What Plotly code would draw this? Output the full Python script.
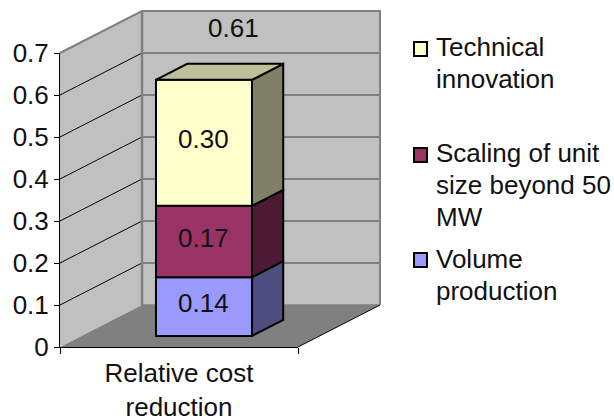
import plotly.graph_objects as go

WIDTH, HEIGHT = 614, 418
FONT = "Liberation Sans"
FONT_SIZE = 26
INK = "#111111"

# Chart values
category_label = "Relative cost<br>reduction"
series_names = ["Volume production", "Scaling of unit size beyond 50 MW", "Technical innovation"]
series_values = [0.14, 0.17, 0.30]
series_labels = ["0.14", "0.17", "0.30"]
total_label = "0.61"
y_ticks = [0, 0.1, 0.2, 0.3, 0.4, 0.5, 0.6, 0.7]
y_tick_labels = ["0", "0.1", "0.2", "0.3", "0.4", "0.5", "0.6", "0.7"]

# Face colours per series: front, side, top
front_colors = ["#9999FF", "#993366", "#FFFFCC"]
side_colors = ["#4D4D80", "#4D1A33", "#808066"]
top_color = "#BFBF99"

# Plot box in page pixels
AX_LEFT, AX_RIGHT, AX_BOTTOM, AX_TOP = 60, 298, 347, 53
PX_X = AX_RIGHT - AX_LEFT
PX_Y = (AX_BOTTOM - AX_TOP) / 0.7

# Oblique projection: one unit of depth moves a point right and upward
DEPTH_X = 82 / PX_X
DEPTH_Y = 42 / PX_Y
BAR_NEAR, BAR_FAR = 0.262, 0.643
BAR_LEFT = 0.313
BAR_WIDTH = 0.4034


def project(x, v, depth=0.0):
    return x + depth * DEPTH_X, v + depth * DEPTH_Y


def path(points):
    coords = [project(*p) for p in points]
    return "M" + "L".join(f"{x:.5f},{y:.5f}" for x, y in coords) + "Z"


def polyline(points):
    coords = [project(*p) for p in points]
    return "M" + "L".join(f"{x:.5f},{y:.5f}" for x, y in coords)


def wall(points, color):
    return dict(type="path", xref="x", yref="y", layer="below", path=path(points),
                fillcolor=color, line=dict(width=0))


def edge(points, color, width):
    return dict(type="path", xref="x", yref="y", layer="below", path=polyline(points),
                line=dict(color=color, width=width))


WALL = "#C0C0C0"
FLOOR = "#808080"
TOP = y_ticks[-1]

shapes = [
    wall([(0, 0, 0), (0, TOP, 0), (0, TOP, 1), (0, 0, 1)], WALL),
    wall([(0, 0, 1), (0, TOP, 1), (1, TOP, 1), (1, 0, 1)], WALL),
    wall([(0, 0, 0), (1, 0, 0), (1, 0, 1), (0, 0, 1)], FLOOR),
]
for t in y_ticks[1:-1]:
    shapes.append(edge([(0, t, 1), (1, t, 1)], "#808080", 2))
    shapes.append(edge([(0, t, 0), (0, t, 1)], "#000000", 1))
shapes += [
    edge([(0, TOP, 0), (0, TOP, 1), (1, TOP, 1), (1, 0, 1)], "#808080", 2),
    edge([(0, 0, 1), (0, TOP, 1)], "#808080", 2.5),
    edge([(0, 0, 1), (1, 0, 1)], "#808080", 1.5),
    edge([(1, 0, 0), (1, 0, 1)], "#000000", 1),
]

fig = go.Figure()

# Front faces of the stacked column
lift = BAR_NEAR * DEPTH_Y
x_center = BAR_LEFT + BAR_WIDTH / 2 + BAR_NEAR * DEPTH_X
bases = [sum(series_values[:i]) + lift for i in range(len(series_values))]
for name, value, base, color in zip(series_names, series_values, bases, front_colors):
    fig.add_trace(go.Bar(
        x=[x_center], y=[value], base=[base], width=[BAR_WIDTH], name=name,
        marker=dict(color=color, line=dict(color="#000000", width=2)),
        showlegend=False,
    ))


def face(points, color):
    coords = [project(*p) for p in points]
    xs = [c[0] for c in coords] + [coords[0][0]]
    ys = [c[1] for c in coords] + [coords[0][1]]
    fig.add_trace(go.Scatter(
        x=xs, y=ys, mode="lines", fill="toself", fillcolor=color,
        line=dict(color="#000000", width=2), hoverinfo="skip", showlegend=False,
    ))


# Side faces of each stack segment and the top of the column
right = BAR_LEFT + BAR_WIDTH
level = 0.0
for value, color in zip(series_values, side_colors):
    face([(right, level, BAR_NEAR), (right, level + value, BAR_NEAR),
          (right, level + value, BAR_FAR), (right, level, BAR_FAR)], color)
    level += value
face([(BAR_LEFT, level, BAR_NEAR), (right, level, BAR_NEAR),
      (right, level, BAR_FAR), (BAR_LEFT, level, BAR_FAR)], top_color)

# Visible axes, drawn over the scene
fig.add_trace(go.Scatter(x=[0.5], y=[0], xaxis="x2", yaxis="y2", mode="markers",
                         marker=dict(opacity=0), hoverinfo="skip", showlegend=False))

fig.update_layout(
    template="none",
    width=WIDTH, height=HEIGHT, autosize=False,
    margin=dict(l=0, r=0, t=0, b=0, pad=0),
    paper_bgcolor="#FFFFFF", plot_bgcolor="rgba(0,0,0,0)",
    barmode="overlay", shapes=shapes, showlegend=False,
    font=dict(family=FONT, size=FONT_SIZE, color=INK),
    # Scene axes fill the page so every projected face stays unclipped
    xaxis=dict(domain=[0, 1], range=[-AX_LEFT / PX_X, (WIDTH - AX_LEFT) / PX_X],
               visible=False, fixedrange=True, automargin=False),
    yaxis=dict(domain=[0, 1], range=[-(HEIGHT - AX_BOTTOM) / PX_Y, AX_BOTTOM / PX_Y],
               visible=False, fixedrange=True, automargin=False),
    xaxis2=dict(domain=[AX_LEFT / WIDTH, AX_RIGHT / WIDTH], range=[0, 1], anchor="y2",
                automargin=False,
                showgrid=False, zeroline=False, showline=True, linecolor="#000000", linewidth=1,
                tickmode="array", tickvals=[0.5], ticktext=[category_label], ticks="",
                ticklen=0, ticklabelstandoff=3, tickfont=dict(family=FONT, size=FONT_SIZE, color=INK),
                minor=dict(tickmode="array", tickvals=[0, 1], ticks="outside", ticklen=6,
                           tickcolor="#000000", tickwidth=1, showgrid=False),
                fixedrange=True),
    yaxis2=dict(domain=[1 - AX_BOTTOM / HEIGHT, 1 - AX_TOP / HEIGHT], range=[0, 0.7], anchor="x2",
                automargin=False,
                showgrid=False, zeroline=False, showline=True, linecolor="#000000", linewidth=1,
                tickmode="array", tickvals=y_ticks, ticktext=y_tick_labels, ticks="outside",
                ticklen=5, tickcolor="#000000", tickwidth=1,
                tickfont=dict(family=FONT, size=FONT_SIZE, color=INK), fixedrange=True),
)

# Segment labels centred on each front face
for value, base, label in zip(series_values, bases, series_labels):
    fig.add_annotation(text=label, xref="x", yref="y", x=x_center, y=base + value / 2,
                       yshift=3.5, showarrow=False, xanchor="center", yanchor="middle",
                       font=dict(family=FONT, size=FONT_SIZE, color=INK))


def page_text(text, x, y, xanchor="left"):
    fig.add_annotation(text=text, xref="paper", yref="paper", x=x / WIDTH, y=1 - y / HEIGHT,
                       showarrow=False, xanchor=xanchor, yanchor="middle", align="left",
                       borderpad=0, borderwidth=0,
                       font=dict(family=FONT, size=FONT_SIZE, color=INK))


# Total label on the back wall
page_text(total_label, 233, 28, "center")

# Legend: swatch and wrapped label lines for each series
legend_rows = [
    (["Technical", "innovation"], front_colors[2], 49, [47, 79]),
    (["Scaling of unit", "size beyond 50", "MW"], front_colors[1], 155, [153, 185, 217]),
    (["Volume", "production"], front_colors[0], 260, [259, 291]),
]
for lines, color, swatch_y, line_ys in legend_rows:
    fig.add_shape(type="rect", xref="paper", yref="paper",
                  x0=414 / WIDTH, x1=427 / WIDTH,
                  y0=1 - (swatch_y - 7) / HEIGHT, y1=1 - (swatch_y + 7) / HEIGHT,
                  fillcolor=color, line=dict(color="#000000", width=2))
    for line, line_y in zip(lines, line_ys):
        page_text(line, 436, line_y)

fig.write_html("out.html")
